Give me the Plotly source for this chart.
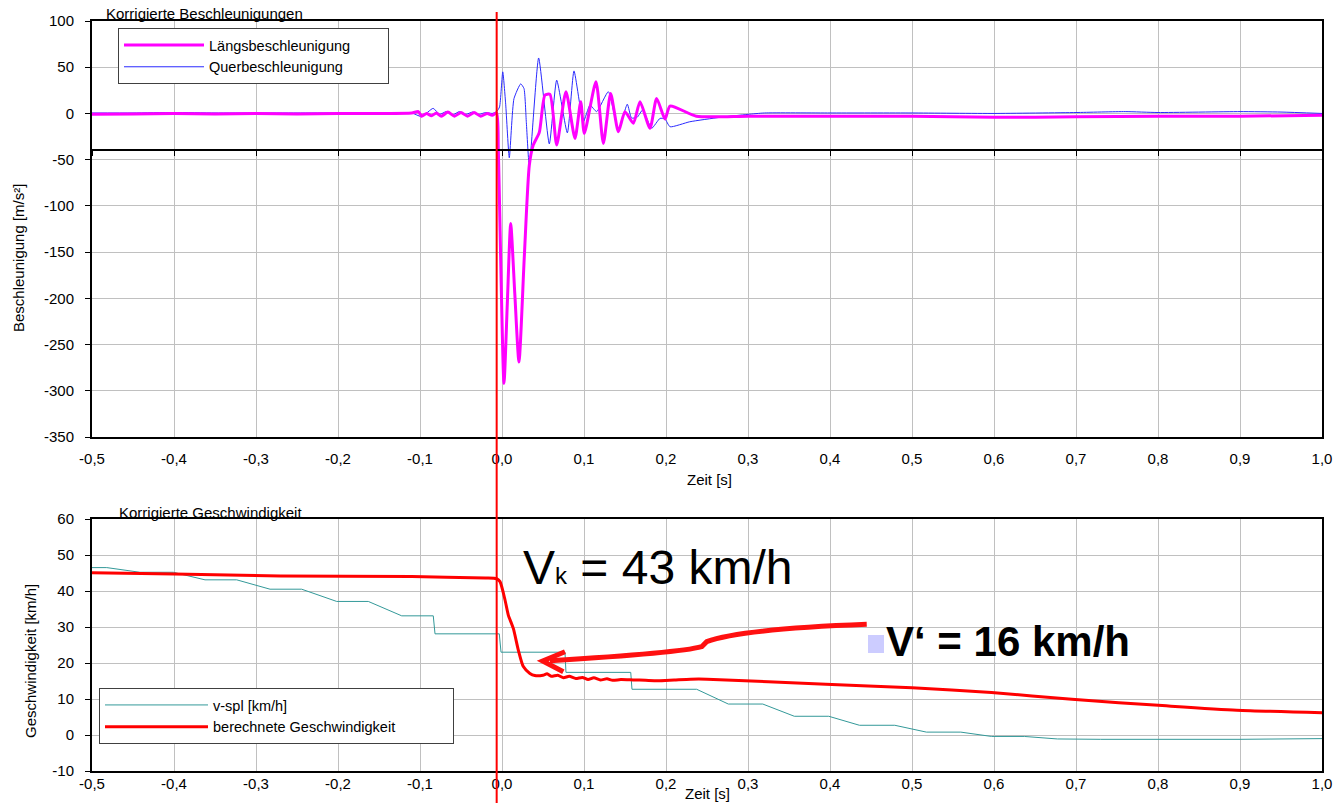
import plotly.graph_objects as go

W, H = 1336, 803

# ---------------- data ----------------
# Korrigierte Beschleunigungen  (time [s], acceleration [m/s²])
t_laengs = [-0.50, -0.45, -0.40, -0.35, -0.30, -0.25, -0.20, -0.15, -0.11, -0.102,
            -0.098, -0.092, -0.086, -0.080, -0.074, -0.066, -0.058, -0.050, -0.042, -0.034,
            -0.026, -0.018, -0.012, -0.0065, -0.0045, 0.0024, 0.0065, 0.0106, 0.0156, 0.0207,
            0.0272, 0.0333, 0.0382, 0.0455, 0.0524, 0.0585, 0.0667, 0.0780, 0.0890, 0.0960,
            0.1004, 0.1146, 0.1236, 0.1325, 0.1419, 0.1500, 0.1602, 0.1683, 0.1805, 0.1886,
            0.1988, 0.2049, 0.2370, 0.30, 0.40, 0.50, 0.60, 0.65, 0.70, 0.80,
            0.90, 1.00]
a_laengs = [-1.0, -0.5, 0.0, -0.5, 0.0, -0.5, 0.0, 0.0, 0.5, 2.0,
            -3.0, 0.0, -2.5, 0.5, -3.0, 1.5, -3.0, 1.0, -3.0, 1.0,
            -3.0, 0.0, -2.0, 0.5, -40.0, -292.0, -205.0, -119.0, -195.0, -269.0,
            -155.0, -56.0, -34.0, -20.5, 19.9, 20.6, -34.0, 23.5, -27.0, 12.7,
            -21.6, 34.3, -32.4, 21.7, -19.8, 1.8, -10.7, 12.7, -16.1, 16.3,
            -6.1, 8.0, -3.0, -3.0, -3.0, -3.0, -4.0, -4.0, -3.5, -3.0,
            -3.0, -2.0]

t_quer = [-0.50, -0.45, -0.40, -0.35, -0.30, -0.25, -0.20, -0.15, -0.11, -0.098,
          -0.084, -0.076, -0.068, -0.060, -0.052, -0.044, -0.036, -0.028, -0.020, -0.012,
          -0.0065, -0.003, 0.0009, 0.0045, 0.0089, 0.0146, 0.0228, 0.0268, 0.0297, 0.0333,
          0.0447, 0.0577, 0.0667, 0.0797, 0.0878, 0.0992, 0.1073, 0.1154, 0.1297, 0.1419,
          0.1528, 0.1580, 0.1650, 0.1715, 0.1825, 0.1927, 0.1988, 0.2049, 0.2290, 0.2660,
          0.30, 0.32, 0.40, 0.50, 0.60, 0.70, 0.76, 0.80, 0.90, 0.95,
          1.00]
a_quer = [0.5, 0.5, 1.0, 0.5, 0.5, 0.5, 0.5, 0.5, 0.5, -3.5,
          5.5, -1.0, 2.0, -1.5, 2.0, -1.0, 1.5, -1.0, 1.0, 0.0,
          2.0, 7.0, 45.0, 10.0, -48.0, 16.0, 32.0, 27.0, -10.0, -57.0,
          60.0, -33.0, 36.0, -21.0, 46.0, -9.0, 9.0, 2.0, 23.5, -18.0,
          10.0, -5.0, -4.0, 3.7, -16.0, -5.3, -6.0, -14.4, -9.0, -4.2,
          -1.0, 0.5, 0.5, 0.5, 0.0, 1.0, 2.0, 1.0, 2.0, 1.5,
          0.0]

# Korrigierte Geschwindigkeit  (time [s], speed [km/h])
t_vspl = [-0.500, -0.482, -0.4415, -0.4009, -0.3622, -0.3235, -0.2829, -0.2443, -0.2016, -0.163,
          -0.1223, -0.0838, -0.0817, -0.0033, -0.0012, 0.0768, 0.0780, 0.1570, 0.1585, 0.2374,
          0.2760, 0.3180, 0.3565, 0.3985, 0.4359, 0.4790, 0.5176, 0.5595, 0.5970, 0.6370,
          0.6774, 0.7300, 0.9000, 1.000]
v_vspl = [46.5, 46.5, 45.2, 45.2, 43.1, 43.1, 40.5, 40.5, 37.1, 37.1,
          33.1, 33.1, 28.1, 28.1, 23.0, 23.0, 17.4, 17.4, 12.7, 12.7,
          8.6, 8.6, 5.2, 5.2, 2.7, 2.7, 0.8, 0.8, -0.4, -0.4,
          -1.1, -1.2, -1.2, -1.0]

t_vber = [-0.50, -0.40, -0.27, -0.11, -0.02, -0.0065, -0.0024, 0.0037, 0.0077, 0.0138,
          0.0199, 0.0260, 0.0340, 0.0400, 0.0500, 0.0550, 0.0600, 0.0680, 0.0750, 0.0820,
          0.0900, 0.0980, 0.1050, 0.1120, 0.1200, 0.1280, 0.1350, 0.1450, 0.1600, 0.1750,
          0.1900, 0.2100, 0.2300, 0.2500, 0.3950, 0.5000, 0.5970, 0.6950, 0.8100, 0.8960,
          1.000]
v_vber = [45.1, 44.7, 44.2, 44.0, 43.6, 43.4, 42.6, 37.5, 33.3, 29.6,
          23.6, 19.0, 17.1, 16.5, 16.6, 17.0, 16.3, 16.6, 15.9, 16.3,
          15.7, 16.0, 15.4, 15.9, 15.3, 15.6, 15.2, 15.4, 15.3, 15.2,
          15.1, 15.3, 15.5, 15.5, 14.1, 13.1, 11.8, 9.9, 8.1, 6.9,
          6.2]

x_tickvals = [-0.5, -0.4, -0.3, -0.2, -0.1, 0.0, 0.1, 0.2, 0.3, 0.4, 0.5, 0.6, 0.7, 0.8, 0.9, 1.0]
x_ticktext = ["-0,5", "-0,4", "-0,3", "-0,2", "-0,1", "0,0", "0,1", "0,2", "0,3", "0,4",
              "0,5", "0,6", "0,7", "0,8", "0,9", "1,0"]
y1_tickvals = [100, 50, 0, -50, -100, -150, -200, -250, -300, -350]
y1_ticktext = ["100", "50", "0", "-50", "-100", "-150", "-200", "-250", "-300", "-350"]
y2_tickvals = [60, 50, 40, 30, 20, 10, 0, -10]
y2_ticktext = ["60", "50", "40", "30", "20", "10", "0", "-10"]

impact_time = -0.0065
axis_cross_top = -40

# ---------------- layout helpers ----------------
FONT = "Liberation Sans, Arial, sans-serif"
GRID = "#c0c0c0"
NB = "\u00a0"


def fx(px):
    return px / W


def fy(py):
    return 1 - py / H


x_dom = [fx(92), fx(1322)]
y1_dom = [fy(437), fy(21)]
y2_dom = [fy(771), fy(519)]
y1_range = [-350, 100]
y2_range = [-10, 60]
cross_pos = y1_dom[0] + (axis_cross_top - y1_range[0]) / (y1_range[1] - y1_range[0]) * (y1_dom[1] - y1_dom[0])

fig = go.Figure()

fig.add_trace(go.Scatter(x=t_quer, y=a_quer, name="Querbeschleunigung" + NB * 8, mode="lines",
                         line=dict(color="#2a2aff", width=1, shape="spline", smoothing=0.5),
                         xaxis="x", yaxis="y", legend="legend", legendrank=2))
fig.add_trace(go.Scatter(x=t_laengs, y=a_laengs, name="Längsbeschleunigung" + NB * 8, mode="lines",
                         line=dict(color="#ff00ff", width=3, shape="spline", smoothing=0.6),
                         xaxis="x", yaxis="y", legend="legend", legendrank=1))
# carrier for the crossing axis at -40
fig.add_trace(go.Scatter(x=[], y=[], xaxis="x3", yaxis="y", showlegend=False, hoverinfo="skip"))

fig.add_trace(go.Scatter(x=t_vspl, y=v_vspl, name="v-spl [km/h]", mode="lines",
                         line=dict(color="#339999", width=1),
                         xaxis="x2", yaxis="y2", legend="legend2"))
fig.add_trace(go.Scatter(x=t_vber, y=v_vber, name="berechnete Geschwindigkeit" + NB * 13, mode="lines",
                         line=dict(color="#ff0000", width=3, shape="spline", smoothing=0.6),
                         xaxis="x2", yaxis="y2", legend="legend2"))

common_x = dict(range=[-0.5, 1.0], tickvals=x_tickvals, ticktext=x_ticktext, showgrid=True,
                gridcolor=GRID, gridwidth=1, zeroline=False, showline=True, linecolor="black",
                linewidth=2, mirror=True, ticks="", tickfont=dict(size=15, color="black"),
                domain=x_dom, automargin=False)
common_y = dict(showgrid=True, gridcolor=GRID, gridwidth=1, zeroline=False, showline=True,
                linecolor="black", linewidth=2, mirror=True, ticks="outside", ticklen=5,
                tickcolor="black", tickwidth=1, tickfont=dict(size=15, color="black"),
                ticklabelstandoff=8, automargin=False)

fig.update_layout(
    width=W, height=H, autosize=False,
    margin=dict(l=0, r=0, t=0, b=0, pad=0),
    paper_bgcolor="white", plot_bgcolor="white",
    font=dict(family=FONT, size=15, color="black"),
    xaxis=dict(anchor="y", ticklabelstandoff=7, **common_x),
    yaxis=dict(anchor="x", domain=y1_dom, range=y1_range, tickvals=y1_tickvals,
               ticktext=y1_ticktext, **common_y),
    xaxis3=dict(overlaying="x", anchor="free", position=cross_pos, side="bottom",
                range=[-0.5, 1.0], tickvals=x_tickvals, showticklabels=False, showgrid=False,
                zeroline=False, showline=True, linecolor="black", linewidth=1.5,
                ticks="outside", ticklen=5, tickcolor="black", tickwidth=1, automargin=False),
    xaxis2=dict(anchor="y2", ticklabelstandoff=-2, **common_x),
    yaxis2=dict(anchor="x2", domain=y2_dom, range=y2_range, tickvals=y2_tickvals,
                ticktext=y2_ticktext, **common_y),
    legend=dict(x=fx(118), y=fy(28), xanchor="left", yanchor="top", bgcolor="white",
                bordercolor="#404040", borderwidth=1, font=dict(size=14.5, color="black"),
                itemwidth=80, traceorder="normal"),
    legend2=dict(x=fx(99), y=fy(688), xanchor="left", yanchor="top", bgcolor="white",
                 bordercolor="#404040", borderwidth=1, font=dict(size=14.5, color="black"),
                 itemwidth=103, traceorder="normal"),
    showlegend=True,
)

ann = []


def add_text(text, px, py, size=15, xanchor="left", angle=0):
    ann.append(dict(text=text, x=fx(px), y=fy(py), xref="paper", yref="paper",
                    xanchor=xanchor, yanchor="middle", showarrow=False, textangle=angle,
                    font=dict(family=FONT, size=size, color="black")))


add_text("Korrigierte Beschleunigungen", 104, 14)
add_text("Korrigierte Geschwindigkeit", 117, 512)
add_text("Zeit [s]", 709, 479, xanchor="center")
add_text("Zeit [s]", 707, 793, xanchor="center")
add_text("Beschleunigung [m/s²]", 19, 258, xanchor="center", angle=-90)
add_text("Geschwindigkeit [km/h]", 30, 661, xanchor="center", angle=-90)
add_text('V<span style="font-size:24px">k</span> = 43 km/h', 521, 567, size=48)
add_text("<b>V‘ = 16 km/h</b>", 884, 641, size=42)
fig.update_layout(annotations=ann)

shapes = []
# impact marker line across both charts
shapes.append(dict(type="line", xref="x", yref="paper", x0=impact_time, x1=impact_time,
                   y0=0, y1=fy(12), line=dict(color="#ff0000", width=2), layer="above"))
# hand-drawn arrow (bottom chart data coordinates)
shapes.append(dict(type="path", xref="x2", yref="y2",
                   path="M 0.4448 30.75 Q 0.2902 29.44 0.2496 25.92 L 0.2435 24.53 Q 0.2171 22.78 0.0585 20.64",
                   line=dict(color="#ff1010", width=5), layer="above"))
shapes.append(dict(type="path", xref="x2", yref="y2",
                   path="M 0.0768 23.14 L 0.0496 20.56 L 0.0748 17.58",
                   line=dict(color="#ff1010", width=5), layer="above"))
# small lavender marker before V'
shapes.append(dict(type="rect", xref="paper", yref="paper", x0=fx(868), x1=fx(884),
                   y0=fy(653), y1=fy(635), fillcolor="#ccccff", line=dict(width=0), layer="above"))
fig.update_layout(shapes=shapes)

fig.write_html("out.html")
